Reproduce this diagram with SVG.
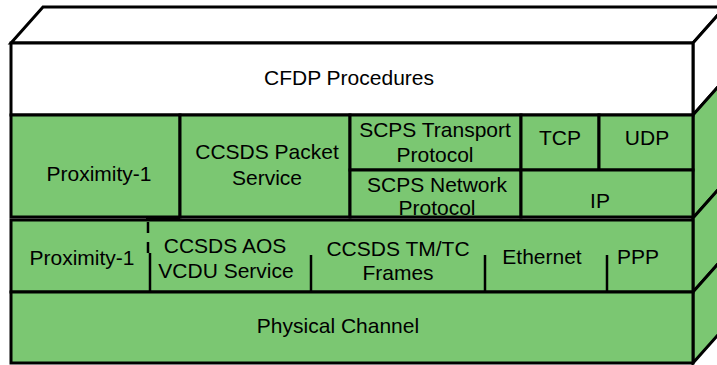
<svg xmlns="http://www.w3.org/2000/svg" width="717" height="365" viewBox="0 0 717 365">
<style>
.g{fill:#7bc772;stroke:#000;stroke-width:3;stroke-linejoin:miter}
.w{fill:#fff;stroke:#000;stroke-width:3;stroke-linejoin:miter}
.d{fill:none;stroke:#000;stroke-width:2.5}
.t{font-family:"Liberation Sans",Arial,sans-serif;font-size:21px;fill:#000;text-anchor:middle}
</style>
<rect width="717" height="365" fill="#fff"/>
<g id="sides">
<polygon class="w" points="11,43 43,7 725,7 693,43"/>
<polygon class="w" points="693,43 725,7 725,79 693,115"/>
<polygon class="g" points="693,115 725,79 725,182 693,218"/>
<polygon class="g" points="693,218 725,182 725,256 693,292"/>
<polygon class="g" points="693,292 725,256 725,327 693,363"/>
</g>
<g id="cfdp">
<rect class="w" x="11" y="43" width="682" height="72"/>
<text class="t" x="349" y="85">CFDP Procedures</text>
</g>
<g id="prox1-top">
<rect class="g" x="11" y="115" width="169" height="102"/>
<text class="t" x="99" y="181">Proximity-1</text>
</g>
<g id="ccsds-packet">
<rect class="g" x="180" y="115" width="170" height="102"/>
<text class="t" x="267" y="159">CCSDS Packet</text>
<text class="t" x="267" y="185">Service</text>
</g>
<g id="scps-tp">
<rect class="g" x="350" y="115" width="171" height="55"/>
<text class="t" x="435" y="137">SCPS Transport</text>
<text class="t" x="435" y="162">Protocol</text>
</g>
<g id="scps-np">
<rect class="g" x="350" y="170" width="171" height="47"/>
<text class="t" x="437" y="192">SCPS Network</text>
<text class="t" x="437" y="215">Protocol</text>
</g>
<g id="tcp">
<rect class="g" x="521" y="115" width="78" height="55"/>
<text class="t" x="560" y="145">TCP</text>
</g>
<g id="udp">
<rect class="g" x="599" y="115" width="94" height="55"/>
<text class="t" x="647" y="145">UDP</text>
</g>
<g id="ip">
<rect class="g" x="521" y="170" width="172" height="47"/>
<text class="t" x="600" y="208">IP</text>
</g>
<g id="link-layer">
<rect class="g" x="11" y="220" width="682" height="72"/>
</g>
<g id="prox1-link">
<text class="t" x="82" y="265">Proximity-1</text>
</g>
<g id="aos">
<text class="t" x="225" y="253">CCSDS AOS</text>
<text class="t" x="226" y="278">VCDU Service</text>
</g>
<g id="tmtc">
<text class="t" x="398" y="256">CCSDS TM/TC</text>
<text class="t" x="398" y="280">Frames</text>
</g>
<g id="ethernet">
<text class="t" x="542" y="264">Ethernet</text>
</g>
<g id="ppp">
<text class="t" x="638" y="264">PPP</text>
</g>
<g id="physical">
<rect class="g" x="11" y="292" width="682" height="71"/>
<text class="t" x="338" y="333">Physical Channel</text>
</g>
<g id="connectors">
<line class="d" x1="146" y1="219" x2="180" y2="219" stroke-width="4"/>
<line class="d" x1="148" y1="222" x2="148" y2="258" stroke-dasharray="11,9"/>
<line class="d" x1="150" y1="253" x2="150" y2="292"/>
<line class="d" x1="311" y1="255" x2="311" y2="292"/>
<line class="d" x1="485" y1="255" x2="485" y2="292"/>
<line class="d" x1="607" y1="255" x2="607" y2="292"/>
</g>
</svg>
